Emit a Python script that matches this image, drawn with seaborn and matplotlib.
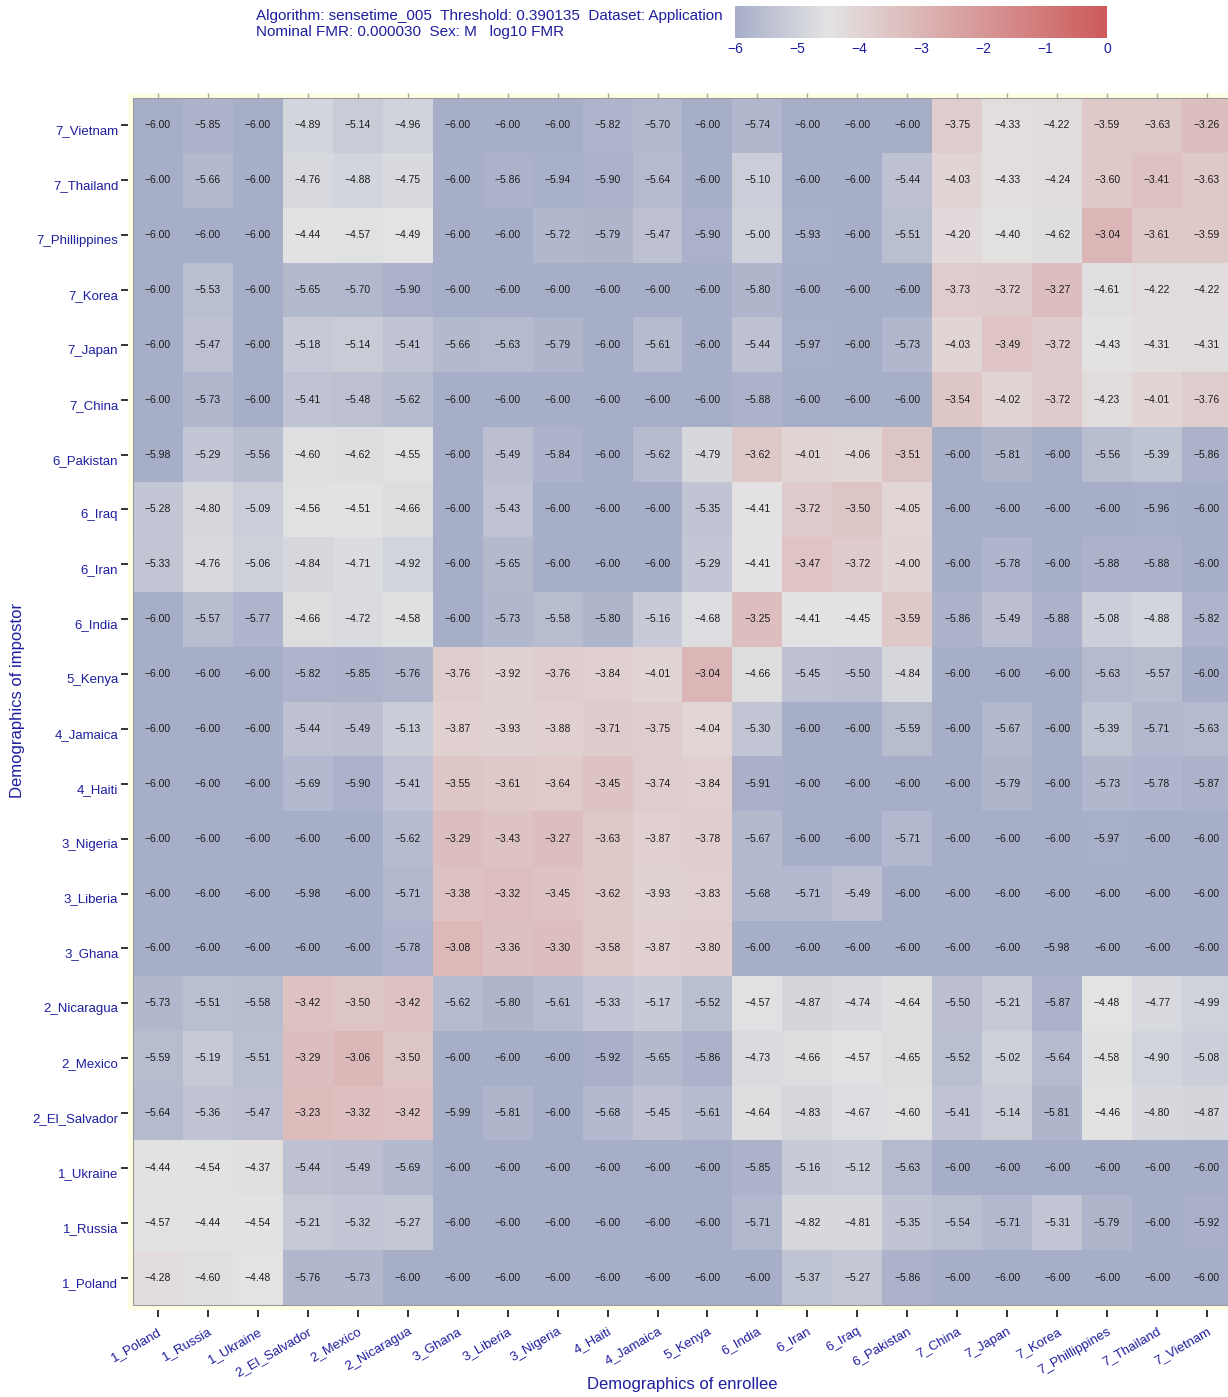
import numpy as np
import pandas as pd
import matplotlib
matplotlib.use("Agg")
import matplotlib.pyplot as plt
import seaborn as sns
from matplotlib.colors import LinearSegmentedColormap

sns.set_theme(style="white")
plt.rcParams["font.family"] = ["Liberation Sans", "DejaVu Sans"]

# Enrollee demographics (columns) and impostor demographics (rows, top to bottom)
enrollee = ["1_Poland", "1_Russia", "1_Ukraine", "2_El_Salvador", "2_Mexico", "2_Nicaragua",
            "3_Ghana", "3_Liberia", "3_Nigeria", "4_Haiti", "4_Jamaica", "5_Kenya",
            "6_India", "6_Iran", "6_Iraq", "6_Pakistan", "7_China", "7_Japan", "7_Korea",
            "7_Phillippines", "7_Thailand", "7_Vietnam"]
impostor = ["7_Vietnam", "7_Thailand", "7_Phillippines", "7_Korea", "7_Japan", "7_China",
            "6_Pakistan", "6_Iraq", "6_Iran", "6_India", "5_Kenya", "4_Jamaica", "4_Haiti",
            "3_Nigeria", "3_Liberia", "3_Ghana", "2_Nicaragua", "2_Mexico", "2_El_Salvador",
            "1_Ukraine", "1_Russia", "1_Poland"]

# log10 FMR, one list per impostor row
r_vietnam = [-6.00, -5.85, -6.00, -4.89, -5.14, -4.96, -6.00, -6.00, -6.00, -5.82, -5.70, -6.00, -5.74, -6.00, -6.00, -6.00, -3.75, -4.33, -4.22, -3.59, -3.63, -3.26]
r_thailand = [-6.00, -5.66, -6.00, -4.76, -4.88, -4.75, -6.00, -5.86, -5.94, -5.90, -5.64, -6.00, -5.10, -6.00, -6.00, -5.44, -4.03, -4.33, -4.24, -3.60, -3.41, -3.63]
r_phillippines = [-6.00, -6.00, -6.00, -4.44, -4.57, -4.49, -6.00, -6.00, -5.72, -5.79, -5.47, -5.90, -5.00, -5.93, -6.00, -5.51, -4.20, -4.40, -4.62, -3.04, -3.61, -3.59]
r_korea = [-6.00, -5.53, -6.00, -5.65, -5.70, -5.90, -6.00, -6.00, -6.00, -6.00, -6.00, -6.00, -5.80, -6.00, -6.00, -6.00, -3.73, -3.72, -3.27, -4.61, -4.22, -4.22]
r_japan = [-6.00, -5.47, -6.00, -5.18, -5.14, -5.41, -5.66, -5.63, -5.79, -6.00, -5.61, -6.00, -5.44, -5.97, -6.00, -5.73, -4.03, -3.49, -3.72, -4.43, -4.31, -4.31]
r_china = [-6.00, -5.73, -6.00, -5.41, -5.48, -5.62, -6.00, -6.00, -6.00, -6.00, -6.00, -6.00, -5.88, -6.00, -6.00, -6.00, -3.54, -4.02, -3.72, -4.23, -4.01, -3.76]
r_pakistan = [-5.98, -5.29, -5.56, -4.60, -4.62, -4.55, -6.00, -5.49, -5.84, -6.00, -5.62, -4.79, -3.62, -4.01, -4.06, -3.51, -6.00, -5.81, -6.00, -5.56, -5.39, -5.86]
r_iraq = [-5.28, -4.80, -5.09, -4.56, -4.51, -4.66, -6.00, -5.43, -6.00, -6.00, -6.00, -5.35, -4.41, -3.72, -3.50, -4.05, -6.00, -6.00, -6.00, -6.00, -5.96, -6.00]
r_iran = [-5.33, -4.76, -5.06, -4.84, -4.71, -4.92, -6.00, -5.65, -6.00, -6.00, -6.00, -5.29, -4.41, -3.47, -3.72, -4.00, -6.00, -5.78, -6.00, -5.88, -5.88, -6.00]
r_india = [-6.00, -5.57, -5.77, -4.66, -4.72, -4.58, -6.00, -5.73, -5.58, -5.80, -5.16, -4.68, -3.25, -4.41, -4.45, -3.59, -5.86, -5.49, -5.88, -5.08, -4.88, -5.82]
r_kenya = [-6.00, -6.00, -6.00, -5.82, -5.85, -5.76, -3.76, -3.92, -3.76, -3.84, -4.01, -3.04, -4.66, -5.45, -5.50, -4.84, -6.00, -6.00, -6.00, -5.63, -5.57, -6.00]
r_jamaica = [-6.00, -6.00, -6.00, -5.44, -5.49, -5.13, -3.87, -3.93, -3.88, -3.71, -3.75, -4.04, -5.30, -6.00, -6.00, -5.59, -6.00, -5.67, -6.00, -5.39, -5.71, -5.63]
r_haiti = [-6.00, -6.00, -6.00, -5.69, -5.90, -5.41, -3.55, -3.61, -3.64, -3.45, -3.74, -3.84, -5.91, -6.00, -6.00, -6.00, -6.00, -5.79, -6.00, -5.73, -5.78, -5.87]
r_nigeria = [-6.00, -6.00, -6.00, -6.00, -6.00, -5.62, -3.29, -3.43, -3.27, -3.63, -3.87, -3.78, -5.67, -6.00, -6.00, -5.71, -6.00, -6.00, -6.00, -5.97, -6.00, -6.00]
r_liberia = [-6.00, -6.00, -6.00, -5.98, -6.00, -5.71, -3.38, -3.32, -3.45, -3.62, -3.93, -3.83, -5.68, -5.71, -5.49, -6.00, -6.00, -6.00, -6.00, -6.00, -6.00, -6.00]
r_ghana = [-6.00, -6.00, -6.00, -6.00, -6.00, -5.78, -3.08, -3.36, -3.30, -3.58, -3.87, -3.80, -6.00, -6.00, -6.00, -6.00, -6.00, -6.00, -5.98, -6.00, -6.00, -6.00]
r_nicaragua = [-5.73, -5.51, -5.58, -3.42, -3.50, -3.42, -5.62, -5.80, -5.61, -5.33, -5.17, -5.52, -4.57, -4.87, -4.74, -4.64, -5.50, -5.21, -5.87, -4.48, -4.77, -4.99]
r_mexico = [-5.59, -5.19, -5.51, -3.29, -3.06, -3.50, -6.00, -6.00, -6.00, -5.92, -5.65, -5.86, -4.73, -4.66, -4.57, -4.65, -5.52, -5.02, -5.64, -4.58, -4.90, -5.08]
r_el_salvador = [-5.64, -5.36, -5.47, -3.23, -3.32, -3.42, -5.99, -5.81, -6.00, -5.68, -5.45, -5.61, -4.64, -4.83, -4.67, -4.60, -5.41, -5.14, -5.81, -4.46, -4.80, -4.87]
r_ukraine = [-4.44, -4.54, -4.37, -5.44, -5.49, -5.69, -6.00, -6.00, -6.00, -6.00, -6.00, -6.00, -5.85, -5.16, -5.12, -5.63, -6.00, -6.00, -6.00, -6.00, -6.00, -6.00]
r_russia = [-4.57, -4.44, -4.54, -5.21, -5.32, -5.27, -6.00, -6.00, -6.00, -6.00, -6.00, -6.00, -5.71, -4.82, -4.81, -5.35, -5.54, -5.71, -5.31, -5.79, -6.00, -5.92]
r_poland = [-4.28, -4.60, -4.48, -5.76, -5.73, -6.00, -6.00, -6.00, -6.00, -6.00, -6.00, -6.00, -6.00, -5.37, -5.27, -5.86, -6.00, -6.00, -6.00, -6.00, -6.00, -6.00]

rows = [r_vietnam, r_thailand, r_phillippines, r_korea, r_japan, r_china, r_pakistan,
        r_iraq, r_iran, r_india, r_kenya, r_jamaica, r_haiti, r_nigeria, r_liberia,
        r_ghana, r_nicaragua, r_mexico, r_el_salvador, r_ukraine, r_russia, r_poland]

df = pd.DataFrame(rows, index=impostor, columns=enrollee)
labels = df.map(lambda v: f"{v:.2f}".replace("-", "\u2212"))

navy = "#1E1E9E"
cmap = LinearSegmentedColormap.from_list(
    "fmr", [(0.0, "#A7AEC8"), (0.25, "#E3E3E3"), (1.0, "#CD5A5A")])

W, H = 1228, 1397
fig = plt.figure(figsize=(W / 100, H / 100), dpi=100)

# main panel: light yellow frame slightly larger than the cell grid
L, R, T, B = 128, 1237, 93, 1310
ax = fig.add_axes([L / W, 1 - B / H, (R - L) / W, (B - T) / H])
ax.set_facecolor("#FFFFE4")

sns.heatmap(df, ax=ax, cmap=cmap, vmin=-6, vmax=0, cbar=False,
            annot=labels, fmt="", annot_kws={"fontsize": 7.5, "color": "#1a1a1a"},
            linewidths=0)
ax.set_xlim(-0.1, 22.1)
ax.set_ylim(22.09, -0.09)
ax.add_patch(plt.Rectangle((0, 0), 22, 22, fill=False, edgecolor="#9a9a9a", lw=0.8, zorder=5))
for s in ax.spines.values():
    s.set_visible(False)

ax.set_xticks(np.arange(len(enrollee)) + 0.5)
ax.set_xticklabels(enrollee, rotation=30, ha="right", rotation_mode="anchor",
                   fontsize=9.5, color=navy)
ax.set_yticks(np.arange(len(impostor)) + 0.5)
ax.set_yticklabels(impostor, rotation=0, fontsize=9.5, color=navy, va="top")
ax.tick_params(axis="both", which="major", direction="out", length=5, width=1.4,
               color="#333333", bottom=True, left=True, pad=2)
ax.tick_params(axis="x", pad=6)
ax.set_xlabel("")
ax.set_ylabel("")

# light inner ticks along the top edge
top = ax.secondary_xaxis("top")
top.set_xticks(np.arange(len(enrollee)) + 0.5)
top.set_xticklabels([])
top.tick_params(direction="in", length=5, width=1.0, color="#aaaaaa")
for s in top.spines.values():
    s.set_visible(False)

# axis titles
fig.text(682 / W, 1 - 1385 / H, "Demographics of enrollee", fontsize=12, color=navy,
         ha="center", va="center")
fig.text(18 / W, 1 - 700 / H, "Demographics of impostor", fontsize=12, color=navy,
         ha="center", va="center", rotation=90)

# colour key
cax = fig.add_axes([735 / W, 1 - 38 / H, (1107 - 735) / W, 32 / H])
cb = fig.colorbar(ax.collections[0], cax=cax, orientation="horizontal")
cb.outline.set_visible(False)
cb.set_ticks([-6, -5, -4, -3, -2, -1, 0])
cb.ax.set_xticklabels(["\u22126", "\u22125", "\u22124", "\u22123", "\u22122", "\u22121", "0"])
cb.ax.tick_params(axis="x", direction="in", length=4, width=1.2, color="white",
                  top=True, bottom=True, labelsize=10, labelcolor=navy, pad=3)

fig.text(256 / W, 1 - 16 / H, "Algorithm: sensetime_005  Threshold: 0.390135  Dataset: Application",
         fontsize=11, color=navy, ha="left", va="center")
fig.text(256 / W, 1 - 32 / H, "Nominal FMR: 0.000030  Sex: M   log10 FMR",
         fontsize=11, color=navy, ha="left", va="center")

fig.savefig("out.png", dpi=100)
